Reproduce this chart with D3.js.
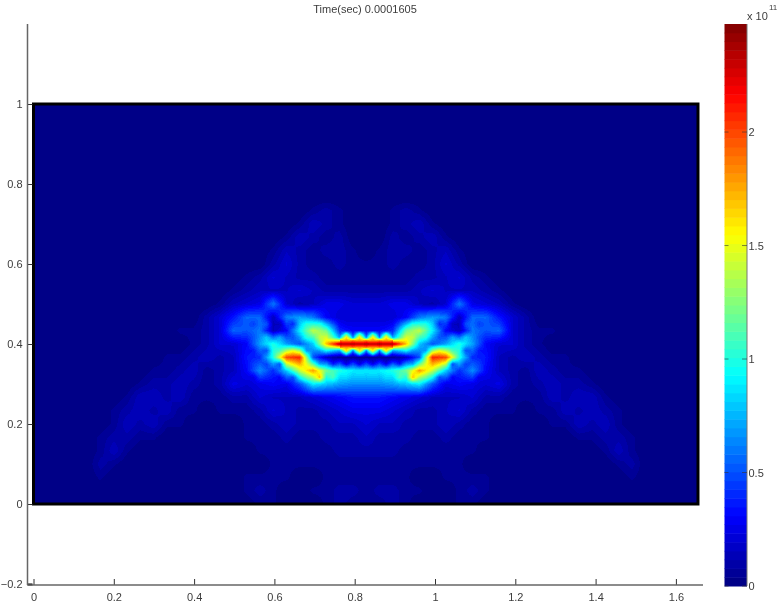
<!DOCTYPE html>
<html><head><meta charset="utf-8">
<script src="https://cdn.jsdelivr.net/npm/d3@7"></script>
<style>
html,body{margin:0;padding:0;background:#fff;overflow:hidden}
#wrap{position:relative;width:778px;height:606px}
canvas{position:absolute;filter:blur(0.7px)}
svg{position:absolute;left:0;top:0}
text{font-family:"Liberation Sans",Arial,sans-serif;fill:#3c3c3c}
</style></head><body><div id="wrap"></div>
<script>
const title = "Time(sec) 0.0001605";
const xTicks = [0,0.2,0.4,0.6,0.8,1,1.2,1.4,1.6];
const yTicks = [-0.2,0,0.2,0.4,0.6,0.8,1];
const cbTicks = [0,0.5e11,1e11,1.5e11,2e11];
const cbLabels = ["0","0.5","1","1.5","2"];
const valueMax = 2.476e11;
const valueUnit = 5e9;   // grid numbers are in multiples of this
const gridDx = 0.0331, gridDy = 1/30, gridCols = 50, gridRows = 30;
const firstCol = 5;      // column index of the first entry in every row below

// node values; first row is j=23, last row is j=0; columns i=5..45
const nodeRows = [
[0,0,0,0,0,0,0,0,0,0,0,0,0,0,0,0,0,0,0,0,0,0,0,0,0,0,0,0,0,0,0,0,0,0,0,0,0,0,0,0,0],
[0,0,0,0,0,0,0,0,0,0,0,0,0,0,0,0,1,2,1,0,0,0,1,2,1,0,0,0,0,0,0,0,0,0,0,0,0,0,0,0,0],
[0,0,0,0,0,0,0,0,0,0,0,0,0,0,0,1,3,2,1,0,0,0,1,2,3,1,0,0,0,0,0,0,0,0,0,0,0,0,0,0,0],
[0,0,0,0,0,0,0,0,0,0,0,0,0,0,1,3,2,1,2,0,0,0,2,1,2,3,1,0,0,0,0,0,0,0,0,0,0,0,0,0,0],
[0,0,0,0,0,0,0,0,0,0,0,0,0,1,3,2,1,2,2,1,0,1,2,2,1,2,3,1,0,0,0,0,0,0,0,0,0,0,0,0,0],
[0,0,0,0,0,0,0,0,0,0,0,0,0,2,4,2,1,1,2,1,1,1,2,1,1,2,4,2,0,0,0,0,0,0,0,0,0,0,0,0,0],
[0,0,0,0,0,0,0,0,0,0,0,1,2,4,3,2,2,1,1,1,1,1,1,1,2,2,3,4,2,1,0,0,0,0,0,0,0,0,0,0,0],
[0,0,0,0,0,0,0,0,0,0,1,2,3,3,3,4,3,2,2,2,2,2,2,2,3,4,3,3,3,2,1,0,0,0,0,0,0,0,0,0,0],
[0,0,0,0,0,0,0,0,0,1,3,4,5,12,4,2,3,5,5,4,4,4,5,5,3,2,4,12,5,4,3,1,0,0,0,0,0,0,0,0,0],
[0,0,0,0,0,0,0,0,2,4,7,11,11,3,12,14,12,6,4,4,4,4,4,6,12,14,12,3,11,11,7,4,2,0,0,0,0,0,0,0,0],
[0,0,0,0,0,0,1,1,2,4,11,10,12,3,6,18,28,24,8,6,6,6,8,24,28,18,6,3,12,10,11,4,2,1,1,0,0,0,0,0,0],
[0,0,0,0,0,0,0,1,2,4,4,6,14,20,14,10,16,34,48,48,48,48,48,34,16,10,14,20,14,6,4,4,2,1,0,0,0,0,0,0,0],
[0,0,0,0,0,1,1,2,3,2,3,7,8,20,40,42,10,3,1,1,1,1,1,3,10,42,40,20,8,7,3,2,3,2,1,1,0,0,0,0,0],
[0,0,0,0,1,1,2,3,1,2,3,6,13,8,16,28,36,24,20,18,18,18,20,24,36,28,16,8,13,6,3,2,1,3,2,1,1,0,0,0,0],
[0,0,0,1,2,2,3,2,1,2,5,4,5,6,5,10,18,16,14,13,13,13,14,16,18,10,5,6,5,4,5,2,1,2,3,2,2,1,0,0,0],
[0,0,1,3,3,2,3,1,1,1,2,2,4,3,3,3,4,5,6,7,7,7,6,5,4,3,3,3,4,2,2,1,1,1,3,2,3,3,1,0,0],
[0,1,2,3,2,3,1,1,0,1,1,1,2,4,3,2,2,3,4,5,5,5,4,3,2,2,3,4,2,1,1,1,0,1,1,3,2,3,2,1,0],
[0,1,3,2,3,1,1,0,0,0,0,1,1,2,3,2,2,2,3,3,4,3,3,2,2,2,3,2,1,1,0,0,0,0,1,1,3,2,3,1,0],
[1,2,2,1,1,0,0,0,0,0,0,1,1,1,2,1,1,2,2,2,3,2,2,2,1,1,2,1,1,1,0,0,0,0,0,0,1,1,2,2,1],
[1,3,1,0,0,0,0,0,0,0,0,0,1,1,1,1,1,1,2,2,2,2,2,1,1,1,1,1,1,0,0,0,0,0,0,0,0,0,1,3,1],
[2,1,0,0,0,0,0,0,0,0,0,0,0,1,1,1,1,1,1,1,1,1,1,1,1,1,1,1,0,0,0,0,0,0,0,0,0,0,0,1,2],
[1,0,0,0,0,0,0,0,0,0,0,1,1,1,1,0,0,1,1,1,1,1,1,1,0,0,1,1,1,1,0,0,0,0,0,0,0,0,0,0,1],
[0,0,0,0,0,0,0,0,0,0,0,1,2,1,0,0,1,1,2,2,1,2,2,1,1,0,0,1,2,1,0,0,0,0,0,0,0,0,0,0,0],
[0,0,0,0,0,0,0,0,0,0,0,0,1,1,0,0,0,1,2,1,1,1,2,1,0,0,0,1,1,0,0,0,0,0,0,0,0,0,0,0,0]
];
const nodeTopRow = 23;

// values at cell centres in the busy band; rows j=13..9 (cell j..j+1), cells i=16..33
const centreRows = [
[9,10,3,8,20,20,10,5,5,5,5,10,20,20,8,3,10,9],
[10,16,14,10,20,28,22,30,30,30,30,22,28,20,10,14,16,10],
[7,10,22,30,14,14,16,30,30,30,30,16,14,14,30,22,10,7],
[9,9,10,32,30,14,7,5,5,5,5,7,14,30,32,10,9,9],
[5,8,6,10,24,34,22,17,16,16,17,22,34,24,10,6,8,5]
];
const centreTopRow = 13, centreFirstCol = 16;

// quarter-step values across the red strip; rows j=13..11 by 0.25, columns i=23..27 by 0.25
const stripRows = [
[8,7,6,6,6,6,6,6,6,6,6,6,6,6,6,7,8],
[9,15,22,15,8,15,22,15,8,15,22,15,8,15,22,15,9],
[14,24,32,24,12,24,32,24,12,24,32,24,12,24,32,24,14],
[38,36,36,36,38,36,36,36,38,36,36,36,38,36,36,36,38],
[48,47,47,47,48,47,47,47,48,47,47,47,48,47,47,47,48],
[38,36,36,36,38,36,36,36,38,36,36,36,38,36,36,36,38],
[14,24,32,24,12,24,32,24,12,24,32,24,12,24,32,24,14],
[6,11,18,11,6,11,18,11,6,11,18,11,6,11,18,11,6],
[1,1,1,1,1,1,1,1,1,1,1,1,1,1,1,1,1]
];
const stripTop = 13, stripLeft = 23;

// layout
const W=778,H=606;
const axL=27.5, axB=585, axT=24, axR=703;
const x = d3.scaleLinear().domain([0,1.6]).range([33.5,675.9]);
const y = d3.scaleLinear().domain([0,1]).range([504,104]);
const cbY = d3.scaleLinear().domain([0,valueMax]).range([586,24]);

function jetColor(t){
  const c = v => Math.round(255*Math.max(0,Math.min(1,v)));
  return [c(1.5-Math.abs(4*t-3)), c(1.5-Math.abs(4*t-2)), c(1.5-Math.abs(4*t-1))];
}
const levels = d3.range(64);
const jet = levels.map(k => jetColor((k+0.5)/64));
const level = d3.scaleQuantize().domain([0,valueMax]).range(levels);

// half-step lattice
const node = (i,j) => {
  const r = nodeRows[nodeTopRow-j];
  if(!r) return 0;
  const v = r[i-firstCol];
  return v===undefined?0:v;
};
const fine = d3.range(2*gridRows+1).map(()=>new Float64Array(2*gridCols+1));
for(let j=0;j<=gridRows;j++)for(let i=0;i<=gridCols;i++){
  const v=node(i,j);
  fine[2*j][2*i]=v;
  if(i<gridCols) fine[2*j][2*i+1]=(v+node(i+1,j))/2;
  if(j<gridRows) fine[2*j+1][2*i]=(v+node(i,j+1))/2;
  if(i<gridCols&&j<gridRows) fine[2*j+1][2*i+1]=(v+node(i+1,j)+node(i,j+1)+node(i+1,j+1))/4;
}
centreRows.forEach((r,k)=>r.forEach((v,m)=>{fine[2*(centreTopRow-k)+1][2*(centreFirstCol+m)+1]=v;}));
[12,11].forEach(j=>{ d3.range(23,28).forEach(i=>{ fine[2*j+1][2*i]=stripRows[(stripTop-j)*4-2][(i-stripLeft)*4]; }); });

const wrap = d3.select("#wrap");
const x0=x(0), x1=x(gridCols*gridDx), y1=y(0), y0=y(1);
const cw=Math.round(x1-x0), ch=Math.round(y1-y0);
const canvas = wrap.append("canvas").attr("width",cw).attr("height",ch)
  .style("left",x0+"px").style("top",y0+"px");
const ctx = canvas.node().getContext("2d");
const img = ctx.createImageData(cw,ch);
function bilinear(a,b,c,d,tx,ty){return (a*(1-tx)+b*tx)*(1-ty)+(c*(1-tx)+d*tx)*ty;}
for(let py=0;py<ch;py++){
  const gj=y.invert(y0+py+0.5)/gridDy;
  const fj=Math.max(0,Math.min(2*gridRows-1e-6,gj*2)), j=Math.floor(fj), ty=fj-j;
  for(let px=0;px<cw;px++){
    const gi=x.invert(x0+px+0.5)/gridDx;
    let v;
    if(gi>=stripLeft&&gi<stripLeft+4&&gj>stripTop-2&&gj<=stripTop){
      const sy=(stripTop-gj)*4, sx=(gi-stripLeft)*4, r=Math.floor(sy), q=Math.floor(sx);
      const R0=stripRows[r],R1=stripRows[r+1];
      v=bilinear(R0[q],R0[q+1],R1[q],R1[q+1],sx-q,sy-r);
    } else {
      const fi=Math.max(0,Math.min(2*gridCols-1e-6,gi*2)), i=Math.floor(fi), tx=fi-i;
      v=bilinear(fine[j][i],fine[j][i+1],fine[j+1][i],fine[j+1][i+1],tx,ty);
    }
    const col=jet[level(v*valueUnit)];
    const o=4*(py*cw+px);
    img.data[o]=col[0];img.data[o+1]=col[1];img.data[o+2]=col[2];img.data[o+3]=255;
  }
}
ctx.putImageData(img,0,0);

const svg = wrap.append("svg").attr("width",W).attr("height",H);

// heat map outline
svg.append("rect").attr("x",x0).attr("y",y0).attr("width",x1-x0).attr("height",y1-y0)
  .attr("fill","none").attr("stroke","#000").attr("stroke-width",3);

// axes
const gx = svg.append("g").attr("transform",`translate(0,${axB})`)
  .call(d3.axisBottom(x).tickValues(xTicks).tickFormat(d3.format("~g")).tickSize(-6).tickPadding(7));
const gy = svg.append("g").attr("transform",`translate(${axL},0)`)
  .call(d3.axisLeft(y).tickValues(yTicks).tickFormat(d3.format("~g")).tickSize(-5).tickPadding(5));
[gx,gy].forEach(g=>{
  g.selectAll("text").attr("font-size",11).style("font-family",'"Liberation Sans",Arial,sans-serif').attr("fill","#3c3c3c");
  g.selectAll(".tick line").attr("stroke","#333").attr("stroke-width",1);
  g.select(".domain").remove();
});
gx.selectAll("text").attr("y",8).attr("dy","0.71em");
gy.selectAll(".tick").filter(d=>d===-0.2).select("line").attr("stroke","#000").attr("stroke-width",2);
svg.append("line").attr("x1",axL).attr("x2",axR).attr("y1",axB).attr("y2",axB).attr("stroke","#666").attr("stroke-width",1.5);
svg.append("line").attr("x1",axL).attr("x2",axL).attr("y1",axT).attr("y2",axB).attr("stroke","#666").attr("stroke-width",1.5);

// title
svg.append("text").attr("x",365).attr("y",13).attr("text-anchor","middle").attr("font-size",11).text(title);

// colour bar
const cbX0=724.5, cbX1=747;
const cbBand = d3.scaleBand().domain(levels).range([586,24]);
svg.append("g").selectAll("rect").data(levels).join("rect")
  .attr("x",cbX0).attr("width",cbX1-cbX0)
  .attr("y",k=>cbBand(k)).attr("height",cbBand.bandwidth()+0.5)
  .attr("fill",k=>d3.rgb(...jet[k]).formatRgb());
svg.append("line").attr("x1",cbX1).attr("x2",cbX1).attr("y1",24).attr("y2",586).attr("stroke","#777");
const cbT = svg.append("g").selectAll("g").data(cbTicks).join("g");
cbT.append("line").attr("x1",cbX0).attr("x2",cbX0+4).attr("y1",d=>cbY(d)).attr("y2",d=>cbY(d)).attr("stroke","#333").attr("stroke-opacity",0.6);
cbT.append("line").attr("x1",cbX1-5).attr("x2",cbX1).attr("y1",d=>cbY(d)).attr("y2",d=>cbY(d)).attr("stroke","#333").attr("stroke-opacity",0.6);
cbT.append("text").attr("x",cbX1+1.5).attr("y",d=>cbY(d)+4).attr("font-size",11).text((d,i)=>cbLabels[i]);
svg.append("text").attr("x",747).attr("y",20).attr("font-size",11).text("x 10");
svg.append("text").attr("x",769).attr("y",10).attr("font-size",8).text("11");
</script></body></html>
